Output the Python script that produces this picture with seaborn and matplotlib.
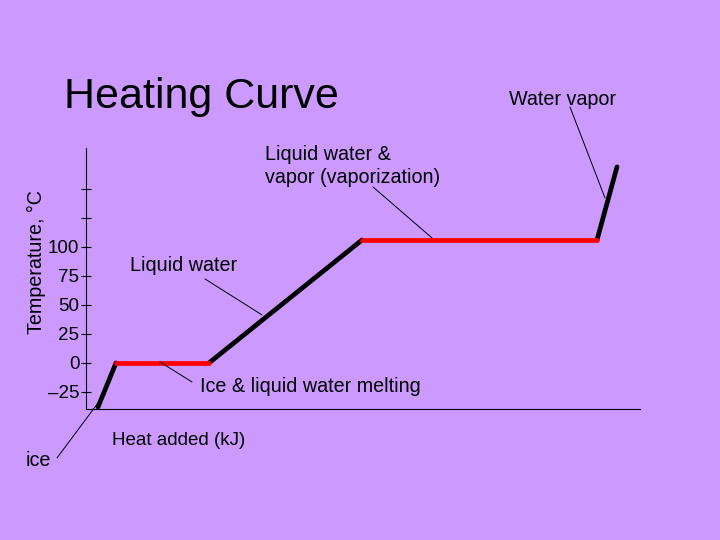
import matplotlib
matplotlib.use("Agg")
import matplotlib.pyplot as plt
import pandas as pd
import seaborn as sns

# heating curve: each segment goes from (heat_start, temp_start) to (heat_end, temp_end)
segments = ["ice", "melting", "liquid", "vaporization", "vapor"]
kinds = ["heating", "phase change", "heating", "phase change", "heating"]
heat_start = [12, 30, 123, 276, 511]
heat_end = [30, 123, 276, 511, 531]
temp_start = [-38, 0, 0, 106, 106]
temp_end = [0, 0, 106, 106, 169]

tick_values = [-25, 0, 25, 50, 75, 100, 125, 150]
tick_labels = ["\u201325", "0", "25", "50", "75", "100", "", ""]

BG = "#CC99FF"
W, H = 720, 540


def fx(px):
    return px / W


def fy(py):
    return 1 - py / H


def to_data(px, py):
    # pixel position -> data coordinates of the axes below
    return px - 86, (363 - py) / 1.16


rows = []
for seg, kind, x0, x1, t0, t1 in zip(segments, kinds, heat_start, heat_end, temp_start, temp_end):
    rows.append({"segment": seg, "kind": kind, "heat": x0, "temp": t0})
    rows.append({"segment": seg, "kind": kind, "heat": x1, "temp": t1})
df = pd.DataFrame(rows)

sns.set_theme(style="white", rc={"figure.facecolor": BG, "axes.facecolor": BG})
plt.rcParams["font.family"] = ["Liberation Sans", "DejaVu Sans"]
plt.rcParams["text.color"] = "black"

fig = plt.figure(figsize=(7.2, 5.4), dpi=100)
ax = fig.add_axes([fx(86), fy(409), (640 - 86) / W, (409 - 148) / H])

sns.lineplot(data=df, x="heat", y="temp", hue="kind", units="segment",
             estimator=None, sort=False, legend=False, linewidth=3.4,
             palette={"heating": "black", "phase change": "#FF0000"}, ax=ax)

ax.set_xlim(0, 554)
ax.set_ylim(-39.7, 185.3)
ax.set_xticks([])
ax.set_yticks(tick_values)
ax.set_yticklabels(tick_labels)
ax.tick_params(axis="y", direction="inout", length=7.5, width=0.8, pad=1,
               labelsize=13.5, colors="black", left=True)
ax.set_xlabel("")
ax.set_ylabel("")
for side in ["top", "right"]:
    ax.spines[side].set_visible(False)
for side in ["left", "bottom"]:
    ax.spines[side].set_color("black")
    ax.spines[side].set_linewidth(0.8)

# leader lines from labels to the curve
leaders = [
    ((57, 458), (98, 403)),
    ((160, 362), (192, 382)),
    ((205, 279), (262, 315)),
    ((373, 187), (432, 238)),
    ((570, 107), (605, 198)),
]
for p0, p1 in leaders:
    ax.annotate("", xy=to_data(*p1), xytext=to_data(*p0),
                arrowprops=dict(arrowstyle="-", lw=0.7, color="black",
                                shrinkA=0, shrinkB=0),
                annotation_clip=False)

# text labels (left x, baseline y in pixels)
fig.text(fx(64), fy(108), "Heating Curve", fontsize=31, va="baseline")
fig.text(fx(509), fy(105), "Water vapor", fontsize=14.2, va="baseline")
fig.text(fx(265), fy(160), "Liquid water &", fontsize=14.2, va="baseline")
fig.text(fx(265), fy(183), "vapor (vaporization)", fontsize=14.2, va="baseline")
fig.text(fx(130), fy(271), "Liquid water", fontsize=14.2, va="baseline")
fig.text(fx(200), fy(392), "Ice & liquid water melting", fontsize=14.2, va="baseline")
fig.text(fx(112), fy(445), "Heat added (kJ)", fontsize=13.5, va="baseline")
fig.text(fx(26), fy(466), "ice", fontsize=14.2, va="baseline")
fig.text(fx(36), fy(262), "Temperature, \u00b0C", fontsize=14.2, rotation=90,
         ha="center", va="center")

plt.savefig("out.png", dpi=100, facecolor=BG)
